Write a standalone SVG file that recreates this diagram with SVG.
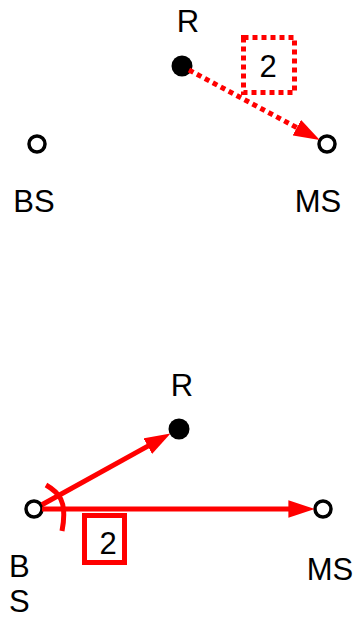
<svg xmlns="http://www.w3.org/2000/svg" width="354" height="618" viewBox="0 0 354 618">
<style>
text{font-family:"Liberation Sans",Arial,sans-serif;font-size:31px;fill:#000}
.open{fill:#fff;stroke:#000;stroke-width:3.5}
.filled{fill:#000}
.conn{fill:none;stroke:#f00;stroke-width:5}
.dot{stroke-dasharray:5,4}
.box{fill:none;stroke:#f00;stroke-width:5}
</style>
<defs>
<marker id="ah" markerUnits="userSpaceOnUse" markerWidth="26" markerHeight="18" refX="15" refY="8.5" orient="auto" viewBox="0 0 25 17">
<path d="M0,0 L25,8.5 L0,17 z" fill="#f00"/>
</marker>
</defs>
<g id="top-R"><circle class="filled" cx="182" cy="66" r="10.5"/><text x="188" y="32" text-anchor="middle">R</text></g>
<g id="top-BS"><circle class="open" cx="37" cy="144" r="8"/><text x="34" y="212" text-anchor="middle">BS</text></g>
<g id="top-MS"><circle class="open" cx="327" cy="144" r="8"/><text x="318" y="212" text-anchor="middle">MS</text></g>
<g id="top-label"><rect class="box dot" x="243.5" y="37.5" width="51" height="55"/><text x="268" y="77" text-anchor="middle">2</text></g>
<g id="bot-R"><circle class="filled" cx="179" cy="429" r="10.5"/><text x="182" y="396" text-anchor="middle">R</text></g>
<g id="bot-BS"><circle class="open" cx="34" cy="509" r="8"/><text x="9" y="577">B</text><text x="9" y="612">S</text></g>
<g id="bot-MS"><circle class="open" cx="323" cy="509" r="8"/><text x="330" y="580" text-anchor="middle">MS</text></g>
<g id="bot-label"><rect class="box" x="84.5" y="515.5" width="40" height="47"/><text x="108" y="554" text-anchor="middle">2</text></g>
<g id="connectors">
<path class="conn dot" d="M189,70 L310.6,135" marker-end="url(#ah)"/>
<path class="conn" d="M41.9,504.7 L161.4,438.6" marker-end="url(#ah)"/>
<path class="conn" d="M42,509 L304,509" marker-end="url(#ah)"/>
<path class="conn" d="M46,485 C58,492 68,500 62,531"/>
</g>
</svg>
